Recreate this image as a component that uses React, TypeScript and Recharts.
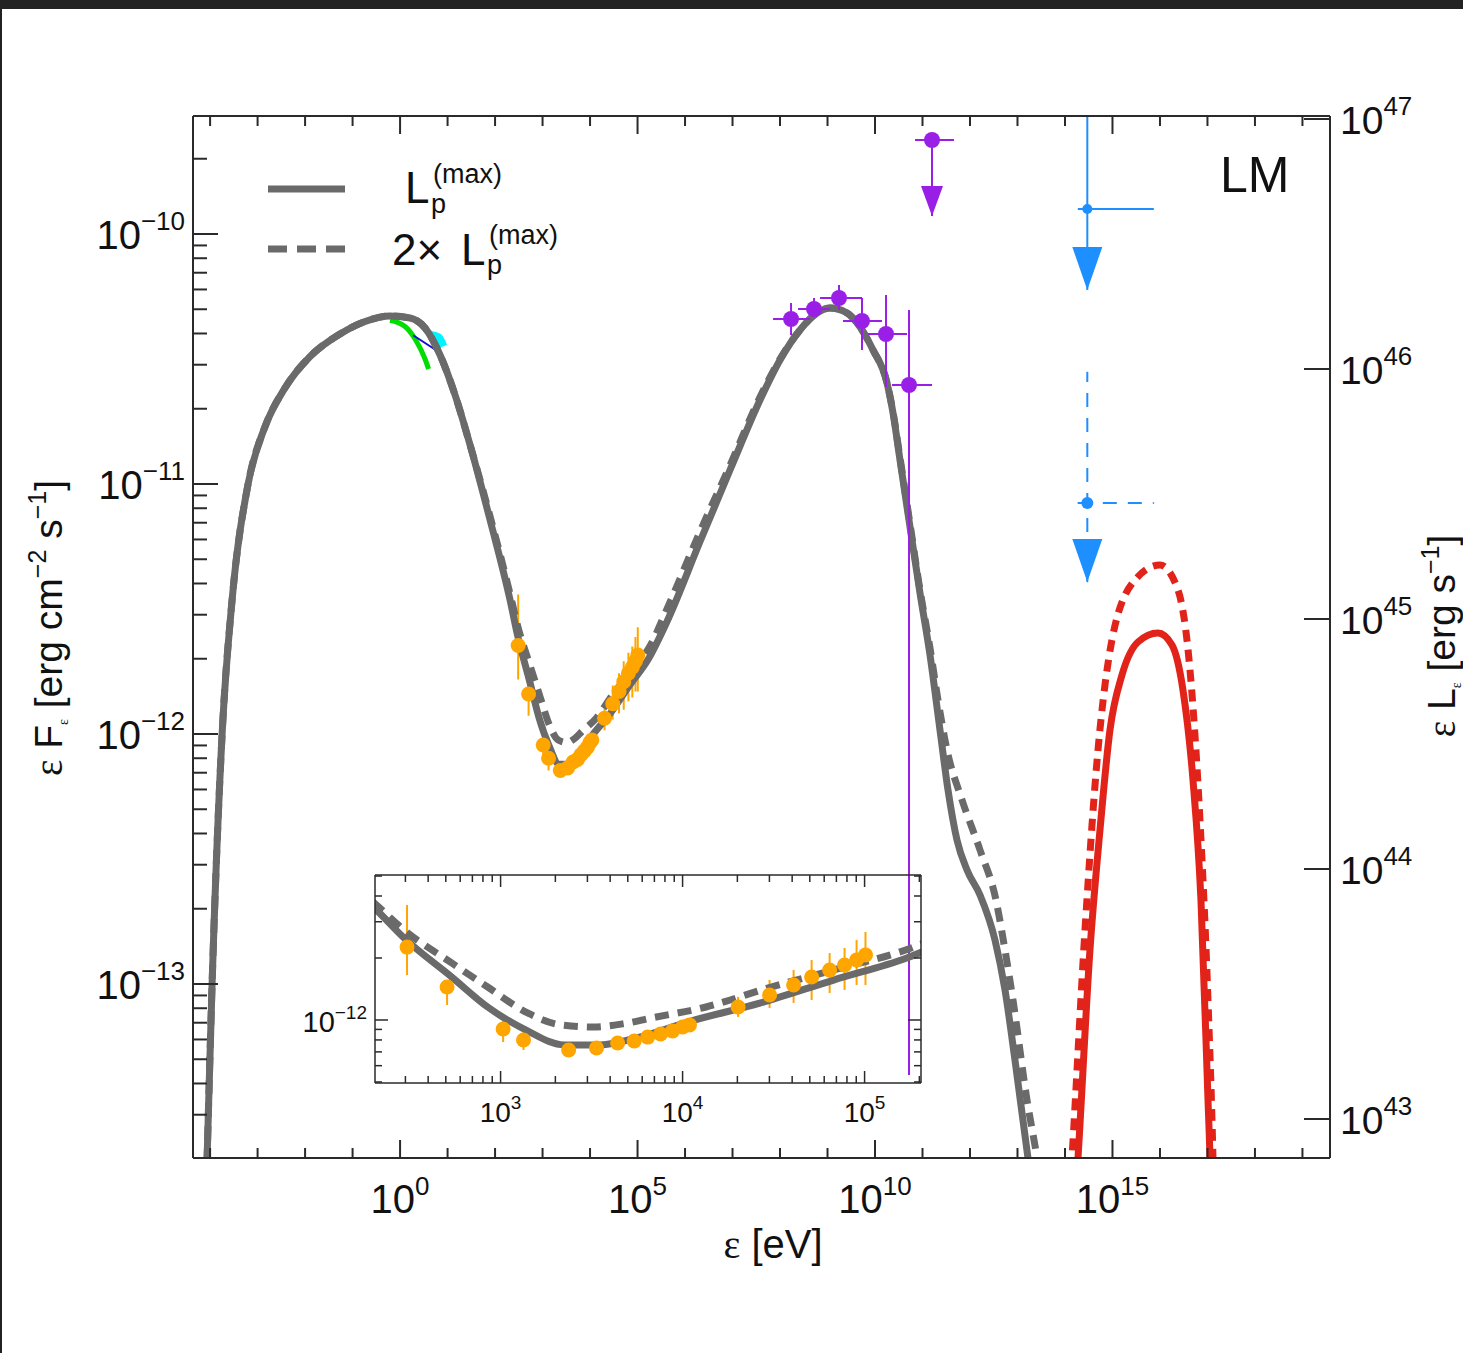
import React from 'react';
import { ComposedChart, Line, Scatter, XAxis, YAxis, ErrorBar } from 'recharts';

// everything is stored as log10: energy in eV, flux in erg cm^-2 s^-1
const X_DOMAIN = [-4.36, 19.58];
const Y_DOMAIN = [-13.696, -9.528];
const LUM_OFFSET = 56.54; // log10(eps L_eps) - log10(eps F_eps)
const INSET_X = [2.31, 5.31];
const INSET_Y = [-12.306, -11.296];

const xDecades = [-4, -3, -2, -1, 0, 1, 2, 3, 4, 5, 6, 7, 8, 9, 10, 11, 12, 13, 14, 15, 16, 17, 18, 19];
const fluxDecades = [-14, -13, -12, -11, -10];
const lumDecades = [43, 44, 45, 46, 47];
const insetEDecades = [2, 3, 4, 5];
const insetFDecades = [-13, -12];
const minorSteps = [1, 2, 3, 4, 5, 6, 7, 8, 9];

// model, L_p^(max)
const photonMax: [number, number][] = [
  [-4.094, -13.9], [-4.063, -13.696], [-3.958, -13.0], [-3.747, -12.0], [-3.537, -11.464],
  [-3.2, -11.0], [-2.842, -10.77], [-2.421, -10.615], [-1.895, -10.49], [-1.263, -10.4],
  [-0.737, -10.35], [-0.211, -10.328], [0.211, -10.336], [0.526, -10.376], [0.842, -10.484],
  [1.158, -10.644], [1.474, -10.844], [1.895, -11.144], [2.316, -11.464], [2.47, -11.602],
  [2.731, -11.791], [2.929, -11.937], [3.14, -12.049], [3.349, -12.121], [3.549, -12.121],
  [3.747, -12.087], [4.027, -12.01], [4.429, -11.917], [4.83, -11.806], [5.228, -11.7],
  [5.621, -11.55], [6.316, -11.23], [6.947, -10.944], [7.579, -10.664], [8.0, -10.504],
  [8.421, -10.384], [8.779, -10.316], [9.053, -10.296], [9.411, -10.316], [9.684, -10.372],
  [9.958, -10.464], [10.253, -10.596], [10.379, -10.716], [10.526, -10.904], [10.737, -11.172],
  [10.947, -11.436], [11.158, -11.684], [11.368, -11.984], [11.537, -12.224], [11.726, -12.424],
  [11.937, -12.544], [12.211, -12.644], [12.526, -12.824], [12.737, -13.024], [12.947, -13.304],
  [13.221, -13.696], [13.347, -13.864],
];

// model, 2x L_p^(max)
const photon2x: [number, number][] = [
  [-4.094, -13.9], [-4.063, -13.696], [-3.958, -13.0], [-3.747, -12.0], [-3.537, -11.464],
  [-3.2, -11.0], [-2.842, -10.77], [-2.421, -10.615], [-1.895, -10.49], [-1.263, -10.4],
  [-0.737, -10.35], [-0.211, -10.328], [0.211, -10.336], [0.526, -10.376], [0.842, -10.484],
  [1.158, -10.644], [1.474, -10.844], [1.895, -11.13], [2.316, -11.44], [2.47, -11.563],
  [2.731, -11.723], [2.929, -11.84], [3.148, -11.966], [3.33, -12.024], [3.511, -12.034],
  [3.67, -12.019], [3.83, -11.99], [4.129, -11.937], [4.467, -11.845], [4.83, -11.757],
  [5.269, -11.646], [5.621, -11.5], [6.316, -11.19], [6.947, -10.925], [7.579, -10.652],
  [8.0, -10.5], [8.421, -10.384], [8.779, -10.316], [9.053, -10.296], [9.411, -10.316],
  [9.684, -10.372], [9.958, -10.464], [10.253, -10.596], [10.379, -10.712], [10.526, -10.895],
  [10.737, -11.16], [10.947, -11.424], [11.158, -11.656], [11.326, -11.864], [11.516, -12.064],
  [11.832, -12.264], [12.211, -12.464], [12.547, -12.664], [12.737, -12.864], [12.905, -13.064],
  [13.2, -13.464], [13.411, -13.696], [13.537, -13.864],
];

const neutrinoMax: [number, number][] = [
  [14.147, -14.064], [14.274, -13.696], [14.526, -12.864], [14.737, -12.384], [14.947, -11.984],
  [15.2, -11.764], [15.537, -11.632], [15.958, -11.596], [16.253, -11.644], [16.484, -11.824],
  [16.695, -12.184], [16.863, -12.664], [17.011, -13.464], [17.053, -13.696], [17.095, -14.064],
];

const neutrino2x: [number, number][] = [
  [14.021, -14.064], [14.147, -13.696], [14.421, -12.784], [14.695, -12.064], [14.989, -11.624],
  [15.474, -11.384], [16.0, -11.324], [16.379, -11.424], [16.632, -11.744], [16.842, -12.344],
  [17.011, -13.064], [17.116, -13.696], [17.158, -14.064],
];

// optical / UV
const opticalGreen: [number, number][] = [[-0.211, -10.345], [0.105, -10.37], [0.316, -10.42], [0.526, -10.5], [0.6, -10.54]];
const uvCyan: [number, number][] = [[0.62, -10.405], [0.8, -10.415], [0.9, -10.45]];
const uvBlue: [number, number][] = [[0.274, -10.405], [0.884, -10.48]];

// X-ray
const xrayE = [2.486, 2.706, 3.014, 3.126, 3.374, 3.527, 3.643, 3.734, 3.808, 3.879, 3.945, 4.0, 4.038, 4.305, 4.478, 4.61, 4.709, 4.808, 4.89, 4.956, 5.005];
const xrayF = [-11.646, -11.84, -12.044, -12.097, -12.146, -12.136, -12.112, -12.102, -12.083, -12.068, -12.053, -12.034, -12.024, -11.937, -11.879, -11.83, -11.791, -11.757, -11.733, -11.709, -11.684];
const xrayErrLo = [0.136, 0.087, 0.063, 0.049, 0.02, 0.02, 0.02, 0.02, 0.02, 0.02, 0.02, 0.02, 0.02, 0.048, 0.063, 0.087, 0.112, 0.112, 0.121, 0.121, 0.146];
const xrayErrHi = [0.204, 0.034, 0.044, 0.048, 0.02, 0.02, 0.02, 0.02, 0.02, 0.02, 0.02, 0.02, 0.02, 0.049, 0.073, 0.073, 0.082, 0.082, 0.083, 0.097, 0.111];

// gamma-ray
const fermiE = [8.232, 8.716, 9.242, 9.726, 10.232, 10.716];
const fermiF = [-10.34, -10.3, -10.256, -10.348, -10.4, -10.604];
const fermiELo = [0.379, 0.337, 0.4, 0.4, 0.379, 0.358];
const fermiEHi = [0.4, 0.337, 0.484, 0.421, 0.442, 0.484];
const fermiFLo = [0.064, 0.032, 0.048, 0.116, 0.212, 2.76];
const fermiFHi = [0.064, 0.044, 0.052, 0.092, 0.156, 0.3];

// upper limits: [logE, logF, eLo, eHi, arrow tip logF, line top logF]
const fermiLimit = [11.2, -9.624, 0.358, 0.463, -9.928, -9.624];
const nuLimitSolid = [14.47, -9.9, 0.2, 1.4, -10.224, -9.528];
const nuLimitDashed = [14.47, -11.076, 0.2, 1.4, -11.392, -10.552];

const FONT = '"Liberation Sans", Arial, Helvetica, sans-serif';
const SERIF = '"Liberation Serif", "Times New Roman", serif';
const AXIS = '#2a2a2a';
const GRAY = '#6a6a6a';
const RED = '#e2231a';
const PURPLE = '#9a1fe6';
const ORANGE = '#ffa500';
const BLUE = '#1e8fff';

const toXY = (pts: [number, number][]) => pts.map(([x, y]) => ({ x, y }));
const spread = (decades: number[], lo: number, hi: number) =>
  decades.flatMap((d) => minorSteps.map((k) => d + Math.log10(k))).filter((v) => v >= lo - 1e-9 && v <= hi + 1e-9);
const isMajor = (v: number) => Math.abs(v - Math.round(v)) < 1e-6;
const expText = (n: number) => (n < 0 ? `\u2212${-n}` : `${n}`);

const xTicks = xDecades;
const yTicks = spread(fluxDecades, Y_DOMAIN[0], Y_DOMAIN[1]);
const lumTicks = lumDecades;
const insetXTicks = spread(insetEDecades, INSET_X[0], INSET_X[1]);
const insetYTicks = spread(insetFDecades, INSET_Y[0], INSET_Y[1]);

const xrayData = xrayE.map((x, i) => ({ x, y: xrayF[i], ey: [xrayErrLo[i], xrayErrHi[i]] }));
const fermiData = fermiE.map((x, i) => ({ x, y: fermiF[i], ex: [fermiELo[i], fermiEHi[i]], ey: [fermiFLo[i], fermiFHi[i]] }));
const limitPoint = (l: number[]) => [{ x: l[0], y: l[1], ex: [l[2], l[3]], ey: [l[1] - l[4], l[5] - l[1]] }];
const arrowTip = (l: number[]) => ({ x: l[0], y: l[4] });

const dot = (r: number, fill: string) => (p: any) => <circle cx={p.cx} cy={p.cy} r={r} fill={fill} />;
const arrowHead = (w: number, h: number, fill: string) => (p: any) => (
  <path d={`M${p.cx - w / 2},${p.cy - h} L${p.cx + w / 2},${p.cy - h} L${p.cx},${p.cy} Z`} fill={fill} />
);

const BottomTick = ({ x, y, payload }: any) => {
  const v = Math.round(payload.value);
  const major = v % 5 === 0;
  return (
    <g>
      <line x1={x} x2={x} y1={y} y2={y - (major ? 18 : 10)} stroke={AXIS} strokeWidth={2} />
      {major && (
        <text x={x} y={y + 55} textAnchor="middle" fontSize={40} fontFamily={FONT} fill="#111">
          10<tspan fontSize={26} dy={-18}>{expText(v)}</tspan>
        </text>
      )}
    </g>
  );
};

const TopTick = ({ x, y, payload }: any) => {
  const major = Math.round(payload.value) % 5 === 0;
  return <line x1={x} x2={x} y1={y} y2={y + (major ? 18 : 10)} stroke={AXIS} strokeWidth={2} />;
};

const LeftTick = ({ x, y, payload }: any) => {
  const v = payload.value;
  const major = isMajor(v);
  return (
    <g>
      <line x1={x} x2={x + (major ? 25 : 14)} y1={y} y2={y} stroke={AXIS} strokeWidth={2} />
      {major && (
        <text x={x - 8} y={y + 15} textAnchor="end" fontSize={40} fontFamily={FONT} fill="#111">
          10<tspan fontSize={26} dy={-19}>{expText(Math.round(v))}</tspan>
        </text>
      )}
    </g>
  );
};

const RightTick = ({ x, y, payload }: any) => (
  <g>
    <line x1={x} x2={x - 26} y1={y} y2={y} stroke={AXIS} strokeWidth={2} />
    <text x={x + 10} y={y + 15} fontSize={39} fontFamily={FONT} fill="#111">
      10<tspan fontSize={26} dy={-19}>{Math.round(payload.value)}</tspan>
    </text>
  </g>
);

const InsetBottomTick = ({ x, y, payload }: any) => {
  const v = payload.value;
  const major = isMajor(v);
  return (
    <g>
      <line x1={x} x2={x} y1={y} y2={y - (major ? 12 : 7)} stroke={AXIS} strokeWidth={1.5} />
      {major && (
        <text x={x} y={y + 39} textAnchor="middle" fontSize={28} fontFamily={FONT} fill="#111">
          10<tspan fontSize={19} dy={-13}>{Math.round(v)}</tspan>
        </text>
      )}
    </g>
  );
};

const InsetTopTick = ({ x, y, payload }: any) => (
  <line x1={x} x2={x} y1={y} y2={y + (isMajor(payload.value) ? 12 : 7)} stroke={AXIS} strokeWidth={1.5} />
);

const InsetLeftTick = ({ x, y, payload }: any) => {
  const v = payload.value;
  const major = isMajor(v);
  return (
    <g>
      <line x1={x} x2={x + (major ? 13 : 7)} y1={y} y2={y} stroke={AXIS} strokeWidth={1.5} />
      {major && (
        <text x={x - 8} y={y + 12} textAnchor="end" fontSize={29} fontFamily={FONT} fill="#111">
          10<tspan fontSize={19} dy={-13}>{expText(Math.round(v))}</tspan>
        </text>
      )}
    </g>
  );
};

const InsetRightTick = ({ x, y, payload }: any) => (
  <line x1={x} x2={x - (isMajor(payload.value) ? 13 : 7)} y1={y} y2={y} stroke={AXIS} strokeWidth={1.5} />
);

const noTickLine = { tickLine: false, tickSize: 0, tickMargin: 0, interval: 0 as const };

const Titles = () => (
  <svg width={1463} height={1353} style={{ position: 'absolute', left: 0, top: 0, pointerEvents: 'none' }} fontFamily={FONT} fill="#111">
    {/* legend */}
    <line x1={268} x2={345} y1={189} y2={189} stroke={GRAY} strokeWidth={7} />
    <line x1={268} x2={345} y1={249} y2={249} stroke={GRAY} strokeWidth={7} strokeDasharray="19 10" />
    <text x={405} y={203} fontSize={44}>L</text>
    <text x={433} y={183} fontSize={27}>(max)</text>
    <text x={431} y={213} fontSize={27}>p</text>
    <text x={392} y={265} fontSize={44}>2×</text>
    <text x={461} y={265} fontSize={44}>L</text>
    <text x={489} y={244} fontSize={27}>(max)</text>
    <text x={487} y={274} fontSize={27}>p</text>
    <text x={1220} y={192} fontSize={50}>LM</text>
    {/* axis titles */}
    <text x={773} y={1258} textAnchor="middle" fontSize={40}>
      <tspan fontFamily={SERIF}>ε</tspan> [eV]
    </text>
    <text transform="translate(62,628) rotate(-90)" textAnchor="middle" fontSize={39}>
      <tspan fontFamily={SERIF}>ε</tspan> F<tspan fontSize={14} dy={6} fontFamily={SERIF}>ε</tspan>
      <tspan dy={-6}> [erg cm</tspan><tspan fontSize={25} dy={-16}>−2</tspan>
      <tspan dy={16}> s</tspan><tspan fontSize={25} dy={-16}>−1</tspan><tspan dy={16}>]</tspan>
    </text>
    <text transform="translate(1455,636) rotate(-90)" textAnchor="middle" fontSize={39}>
      <tspan fontFamily={SERIF}>ε</tspan> L<tspan fontSize={14} dy={6} fontFamily={SERIF}>ε</tspan>
      <tspan dy={-6}> [erg s</tspan><tspan fontSize={25} dy={-16}>−1</tspan><tspan dy={16}>]</tspan>
    </text>
  </svg>
);

const curve = (pts: [number, number][], color: string, dash?: string, width = 7) => (
  <Line
    data={toXY(pts)}
    dataKey="y"
    type="monotone"
    stroke={color}
    strokeWidth={width}
    strokeDasharray={dash}
    dot={false}
    activeDot={false}
    isAnimationActive={false}
  />
);

const MainChart = () => (
  <ComposedChart width={1463} height={1353} margin={{ top: 115, right: 33, bottom: 135, left: 93 }}>
    <XAxis dataKey="x" type="number" domain={X_DOMAIN} allowDataOverflow ticks={xTicks} {...noTickLine}
      height={60} axisLine={{ stroke: AXIS, strokeWidth: 2 }} tick={(p: any) => <BottomTick {...p} />} />
    <XAxis xAxisId="top" orientation="top" dataKey="x" type="number" domain={X_DOMAIN} allowDataOverflow ticks={xTicks}
      {...noTickLine} height={1} axisLine={{ stroke: AXIS, strokeWidth: 2 }} tick={(p: any) => <TopTick {...p} />} />
    <YAxis dataKey="y" type="number" domain={Y_DOMAIN} allowDataOverflow ticks={yTicks} {...noTickLine}
      width={100} axisLine={{ stroke: AXIS, strokeWidth: 2 }} tick={(p: any) => <LeftTick {...p} />} />
    <YAxis yAxisId="lum" orientation="right" dataKey="y" type="number"
      domain={[Y_DOMAIN[0] + LUM_OFFSET, Y_DOMAIN[1] + LUM_OFFSET]} allowDataOverflow ticks={lumTicks} {...noTickLine}
      width={100} axisLine={{ stroke: AXIS, strokeWidth: 2 }} tick={(p: any) => <RightTick {...p} />} />

    <Scatter data={xrayData} fill={ORANGE} shape={dot(7.5, ORANGE)} isAnimationActive={false}>
      <ErrorBar dataKey="ey" direction="y" width={0} stroke={ORANGE} strokeWidth={2} />
    </Scatter>
    {curve(opticalGreen, '#00dd00', undefined, 5)}
    {curve(uvCyan, '#00f4ff', undefined, 9)}
    <Line data={toXY(uvBlue)} dataKey="y" stroke="#1010d0" strokeWidth={2} dot={false} activeDot={false} isAnimationActive={false} />
    {curve(photon2x, GRAY, '14 9')}
    {curve(photonMax, GRAY)}
    {curve(neutrino2x, RED, '12 8')}
    {curve(neutrinoMax, RED)}

    <Scatter data={fermiData} fill={PURPLE} shape={dot(8, PURPLE)} isAnimationActive={false}>
      <ErrorBar dataKey="ex" direction="x" width={0} stroke={PURPLE} strokeWidth={2} />
      <ErrorBar dataKey="ey" direction="y" width={0} stroke={PURPLE} strokeWidth={2} />
    </Scatter>
    <Scatter data={limitPoint(fermiLimit)} fill={PURPLE} shape={dot(8, PURPLE)} isAnimationActive={false}>
      <ErrorBar dataKey="ex" direction="x" width={0} stroke={PURPLE} strokeWidth={2} />
      <ErrorBar dataKey="ey" direction="y" width={0} stroke={PURPLE} strokeWidth={2} />
    </Scatter>
    <Scatter data={[arrowTip(fermiLimit)]} fill={PURPLE} shape={arrowHead(22, 30, PURPLE)} isAnimationActive={false} />

    <Scatter data={limitPoint(nuLimitSolid)} fill={BLUE} shape={dot(5, BLUE)} isAnimationActive={false}>
      <ErrorBar dataKey="ex" direction="x" width={0} stroke={BLUE} strokeWidth={2} />
      <ErrorBar dataKey="ey" direction="y" width={0} stroke={BLUE} strokeWidth={2} />
    </Scatter>
    <Scatter data={limitPoint(nuLimitDashed)} fill={BLUE} shape={dot(6, BLUE)} isAnimationActive={false}>
      <ErrorBar dataKey="ex" direction="x" width={0} stroke={BLUE} strokeWidth={2} strokeDasharray="14 11" />
      <ErrorBar dataKey="ey" direction="y" width={0} stroke={BLUE} strokeWidth={2} strokeDasharray="14 11" />
    </Scatter>
    <Scatter data={[arrowTip(nuLimitSolid), arrowTip(nuLimitDashed)]} fill={BLUE} shape={arrowHead(30, 43, BLUE)} isAnimationActive={false} />
  </ComposedChart>
);

const InsetChart = () => (
  <ComposedChart width={636} height={263} margin={{ top: 9, right: 9, bottom: 0, left: 0 }}>
    <XAxis dataKey="x" type="number" domain={INSET_X} allowDataOverflow ticks={insetXTicks} {...noTickLine}
      height={45} axisLine={{ stroke: AXIS, strokeWidth: 1.5 }} tick={(p: any) => <InsetBottomTick {...p} />} />
    <XAxis xAxisId="top" orientation="top" dataKey="x" type="number" domain={INSET_X} allowDataOverflow ticks={insetXTicks}
      {...noTickLine} height={1} axisLine={{ stroke: AXIS, strokeWidth: 1.5 }} tick={(p: any) => <InsetTopTick {...p} />} />
    <YAxis dataKey="y" type="number" domain={INSET_Y} allowDataOverflow ticks={insetYTicks} {...noTickLine}
      width={80} axisLine={{ stroke: AXIS, strokeWidth: 1.5 }} tick={(p: any) => <InsetLeftTick {...p} />} />
    <YAxis yAxisId="right" orientation="right" dataKey="y" type="number" domain={INSET_Y} allowDataOverflow ticks={insetYTicks}
      {...noTickLine} width={1} axisLine={{ stroke: AXIS, strokeWidth: 1.5 }} tick={(p: any) => <InsetRightTick {...p} />} />

    <Scatter data={xrayData} fill={ORANGE} shape={dot(7.5, ORANGE)} isAnimationActive={false}>
      <ErrorBar dataKey="ey" direction="y" width={0} stroke={ORANGE} strokeWidth={2} />
    </Scatter>
    {curve(photon2x, GRAY, '14 9')}
    {curve(photonMax, GRAY)}
  </ComposedChart>
);

export default function App() {
  return (
    <div style={{ position: 'absolute', left: 0, top: 0, width: 1463, height: 1353, background: '#222', overflow: 'hidden' }}>
      <div style={{ position: 'absolute', left: 2, top: 9, right: 0, bottom: 0, background: '#fff' }} />
      <div style={{ position: 'absolute', left: 0, top: 0 }}>
        <MainChart />
      </div>
      <div style={{ position: 'absolute', left: 295, top: 865 }}>
        <InsetChart />
      </div>
      <Titles />
    </div>
  );
}
